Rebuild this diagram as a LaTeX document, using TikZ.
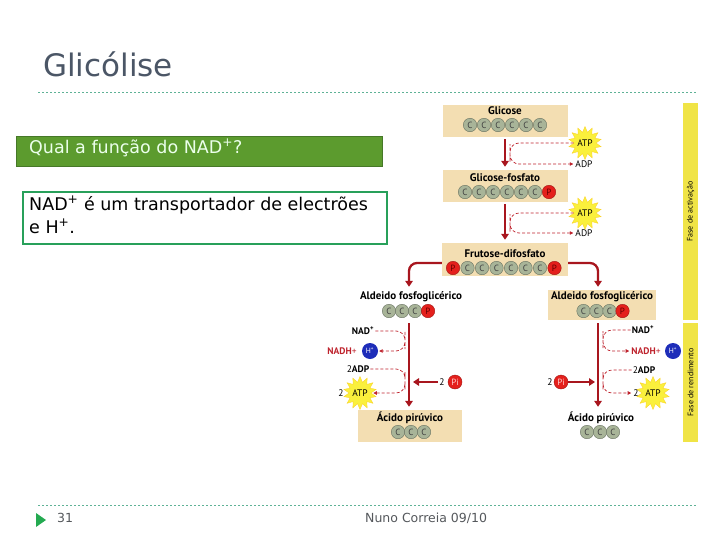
\documentclass[tikz,border=0pt]{standalone}
\usepackage{fontspec}
\setmainfont{DejaVu Sans}
\newfontfamily\figfont{PT Sans}
\usetikzlibrary{shapes,arrows.meta}

\definecolor{titlegray}{RGB}{75,86,102}
\definecolor{rulegreen}{RGB}{95,178,150}
\definecolor{qgreen}{RGB}{92,155,46}
\definecolor{qborder}{RGB}{70,120,40}
\definecolor{agreen}{RGB}{40,160,90}
\definecolor{footgray}{RGB}{85,88,92}
\definecolor{boxtan}{RGB}{243,222,178}
\definecolor{carbon}{RGB}{168,180,152}
\definecolor{carbonrim}{RGB}{105,115,98}
\definecolor{phos}{RGB}{228,32,28}
\definecolor{flowred}{RGB}{168,22,30}
\definecolor{dashred}{RGB}{190,35,45}
\definecolor{hblue}{RGB}{30,45,185}
\definecolor{staryellow}{RGB}{250,240,60}
\definecolor{baryellow}{RGB}{240,228,70}

\tikzset{
  molbox/.style={fill=boxtan, minimum width=125pt, minimum height=32pt, inner sep=0pt},
  molname/.style={font=\figfont\bfseries\fontsize{11}{11}\selectfont},
  carb/.style={circle, draw=carbonrim, fill=carbon, minimum size=13.5pt, inner sep=0pt,
    text=black!75, font=\figfont\fontsize{9}{9}\selectfont},
  phosph/.style={circle, draw=phos!70!black, fill=phos, minimum size=13.5pt, inner sep=0pt,
    text=red!40!black, font=\figfont\fontsize{9}{9}\selectfont},
  tag/.style={font=\figfont\fontsize{9.5}{9.5}\selectfont, inner sep=1pt},
  burst/.style={star, star points=14, star point ratio=1.5, fill=staryellow,
    draw=staryellow!75!orange, minimum size=30pt, inner sep=0pt,
    font=\figfont\fontsize{9.5}{9.5}\selectfont},
  hion/.style={circle, fill=hblue, minimum size=16pt, inner sep=0pt, text=white,
    font=\figfont\fontsize{7.5}{7.5}\selectfont},
  flow/.style={draw=flowred, line width=2.3pt, rounded corners=8pt,
    -{Triangle[length=6pt,width=7.5pt]}},
  dsh/.style={draw=dashred, densely dashed, line width=0.7pt, rounded corners=9pt,
    -{Triangle[length=3.5pt,width=3.5pt]}},
  bartext/.style={rotate=90, font=\figfont\fontsize{8}{8}\selectfont}
}

\begin{document}
\begin{tikzpicture}[x=1pt,y=-1pt]
\useasboundingbox (0,0) rectangle (728,546);

% slide title and rules
\node[anchor=base west, text=titlegray, font=\fontsize{31}{31}\selectfont, inner sep=0pt] (title) at (43,76) {Glicólise};
\draw[rulegreen, dash pattern=on 2pt off 2pt, line width=0.6pt] (38,92) -- (697,92);
\draw[rulegreen, dash pattern=on 2pt off 2pt, line width=0.6pt] (38,505) -- (697,505);

% question and answer
\node[fill=qgreen, draw=qborder, minimum width=366pt, minimum height=30pt, inner sep=0pt] (qbox) at (199,151) {};
\node[anchor=base west, text=white!92!green, font=\fontsize{17.5}{17.5}\selectfont, inner sep=0pt] (qtext) at (29,153) {Qual a função do NAD\textsuperscript{+}?};
\node[draw=agreen, line width=1.2pt, minimum width=364pt, minimum height=52pt, inner sep=0pt] (abox) at (205,218) {};
\node[anchor=base west, font=\fontsize{17.5}{17.5}\selectfont, inner sep=0pt] (ans1) at (29,210) {NAD\textsuperscript{+} é um transportador de electrões};
\node[anchor=base west, font=\fontsize{17.5}{17.5}\selectfont, inner sep=0pt] (ans2) at (29,233) {e H\textsuperscript{+}.};

% footer
\fill[agreen!90!green] (36,513) -- (46,520) -- (36,527) -- cycle;
\node[anchor=base west, text=footgray, font=\fontsize{12.5}{12.5}\selectfont, inner sep=0pt] (pnum) at (57,522) {31};
\node[anchor=base west, text=footgray, font=\fontsize{12.5}{12.5}\selectfont, inner sep=0pt] (author) at (365,522) {Nuno Correia 09/10};

% phase bars
\node[fill=baryellow, minimum width=15pt, minimum height=217pt, inner sep=0pt] (bar1) at (690.5,211.5) {};
\node[bartext] (bar1txt) at (bar1.center) {Fase de activação};
\node[fill=baryellow, minimum width=15pt, minimum height=119pt, inner sep=0pt] (bar2) at (690.5,382.5) {};
\node[bartext] (bar2txt) at (bar2.center) {Fase de rendimento};

% glicose
\node[molbox] (glc) at (505,121) {};
\node[molname] (glcname) at (505,111) {Glicose};
\node[carb] (glc1) at (470,125) {C};
\node[carb] (glc2) at (484,125) {C};
\node[carb] (glc3) at (498,125) {C};
\node[carb] (glc4) at (512,125) {C};
\node[carb] (glc5) at (526,125) {C};
\node[carb] (glc6) at (540,125) {C};

% glicose-fosfato
\node[molbox] (g6p) at (505,186) {};
\node[molname] (g6pname) at (505,178) {Glicose-fosfato};
\node[carb] (gp1) at (465,192) {C};
\node[carb] (gp2) at (479,192) {C};
\node[carb] (gp3) at (493,192) {C};
\node[carb] (gp4) at (507,192) {C};
\node[carb] (gp5) at (521,192) {C};
\node[carb] (gp6) at (535,192) {C};
\node[phosph] (gp7) at (549,192) {P};

% frutose-difosfato
\node[molbox, minimum width=126pt, minimum height=33pt] (fbp) at (505,259.5) {};
\node[molname] (fbpname) at (505,254) {Frutose-difosfato};
\node[phosph] (fb1) at (453,268) {P};
\node[carb] (fb2) at (467.5,268) {C};
\node[carb] (fb3) at (482,268) {C};
\node[carb] (fb4) at (496.5,268) {C};
\node[carb] (fb5) at (511,268) {C};
\node[carb] (fb6) at (525.5,268) {C};
\node[carb] (fb7) at (540,268) {C};
\node[phosph] (fb8) at (554.5,268) {P};

% aldeido fosfoglicerico
\node[minimum width=108pt, minimum height=30pt, inner sep=0pt] (ald1) at (409,305) {};
\node[molname] (ald1name) at (411,297) {Aldeido fosfoglicérico};
\node[carb] (al1) at (389,311) {C};
\node[carb] (al2) at (402,311) {C};
\node[carb] (al3) at (415,311) {C};
\node[phosph] (al4) at (428,311) {P};
\node[molbox, minimum width=108pt, minimum height=30pt] (ald2) at (602,305) {};
\node[molname] (ald2name) at (602,297) {Aldeido fosfoglicérico};
\node[carb] (ar1) at (583.5,311) {C};
\node[carb] (ar2) at (596.5,311) {C};
\node[carb] (ar3) at (609.5,311) {C};
\node[phosph] (ar4) at (622.5,311) {P};

% acido piruvico
\node[molbox, minimum width=104pt] (pyr1) at (410,426) {};
\node[molname] (pyr1name) at (410,418) {Ácido pirúvico};
\node[carb] (pl1) at (398,432) {C};
\node[carb] (pl2) at (411,432) {C};
\node[carb] (pl3) at (424,432) {C};
\node[minimum width=104pt, minimum height=32pt, inner sep=0pt] (pyr2) at (600,426) {};
\node[molname] (pyr2name) at (601,418) {Ácido pirúvico};
\node[carb] (pr1) at (587,432) {C};
\node[carb] (pr2) at (600,432) {C};
\node[carb] (pr3) at (613,432) {C};

% ATP / ADP, activation
\node[burst] (atpa) at (585,143) {ATP};
\node[tag] (adpa) at (584,164) {ADP};
\node[burst] (atpb) at (585,213) {ATP};
\node[tag] (adpb) at (584,233) {ADP};
\coordinate (bta) at (510,153);
\coordinate (btb) at (510,223);

% left branch labels
\node[tag] (nadl) at (363,331) {\bfseries NAD\textsuperscript{+}};
\node[tag, text=dashred] (nadhl) at (342,351) {\bfseries NADH\mdseries+};
\node[hion] (hl) at (370,351) {H\textsuperscript{+}};
\node[tag] (adpl) at (358,369) {2\bfseries ADP};
\node[burst] (atpl) at (360,393) {ATP};
\node[tag] (twol) at (341,393) {2};
\node[tag] (ptwol) at (442,382) {2};
\node[phosph, minimum size=14pt, text=white!80!red] (pil) at (455,382) {Pi};
\coordinate (bl1) at (405,340);
\coordinate (bl2) at (405,381);
\coordinate (jl) at (409,382);

% right branch labels
\node[tag] (nadr) at (643,330) {\bfseries NAD\textsuperscript{+}};
\node[tag, text=dashred] (nadhr) at (646,351) {\bfseries NADH\mdseries+};
\node[hion] (hr) at (673,351) {H\textsuperscript{+}};
\node[tag] (adpr) at (644,370) {2\bfseries ADP};
\node[burst] (atpr) at (653,393) {ATP};
\node[tag] (twor) at (636,393) {2};
\node[tag] (ptwor) at (550,382) {2};
\node[phosph, minimum size=14pt, text=white!80!red] (pir) at (561,382) {Pi};
\coordinate (br1) at (603,340);
\coordinate (br2) at (603,381);
\coordinate (jr) at (598,382);

% main flow
\draw[flow, shorten <=2pt, shorten >=3pt] (glc.south) -- (glc.south |- g6p.north);
\draw[flow, shorten <=2pt, shorten >=3pt] (g6p.south) -- (g6p.south |- fbp.north);
\draw[flow, shorten >=3pt] ([yshift=-3.5pt]fbp.west) -| (ald1.north);
\draw[flow, shorten >=3pt] ([yshift=-3.5pt]fbp.east) -| ([xshift=-4pt]ald2.north);
\draw[flow, shorten <=3pt, shorten >=3pt] (ald1.south) -- (ald1.south |- pyr1.north);
\draw[flow, shorten <=3pt, shorten >=3pt] ([xshift=-4pt]ald2.south) -- ([xshift=-4pt]ald2.south |- pyr2.north);
\draw[flow] (ptwol.west) -- ([xshift=4pt]jl);
\draw[flow] (pir.east) -- ([xshift=-3pt]jr);

% side reactions
\draw[dsh, shorten >=1pt] (atpa.west) -| (bta) |- (adpa.west);
\draw[dsh, shorten >=1pt] (atpb.west) -| (btb) |- (adpb.west);
\draw[dsh, shorten >=1pt] (nadl.east) -| (bl1) |- (hl.east);
\draw[dsh, shorten >=2pt] (adpl.east) -| (bl2) |- (atpl.east);
\draw[dsh, shorten >=1pt] (nadr.west) -| (br1) |- (nadhr.west);
\draw[dsh, shorten >=1pt] (adpr.west) -| (br2) |- (twor.west);
\end{tikzpicture}
\end{document}
